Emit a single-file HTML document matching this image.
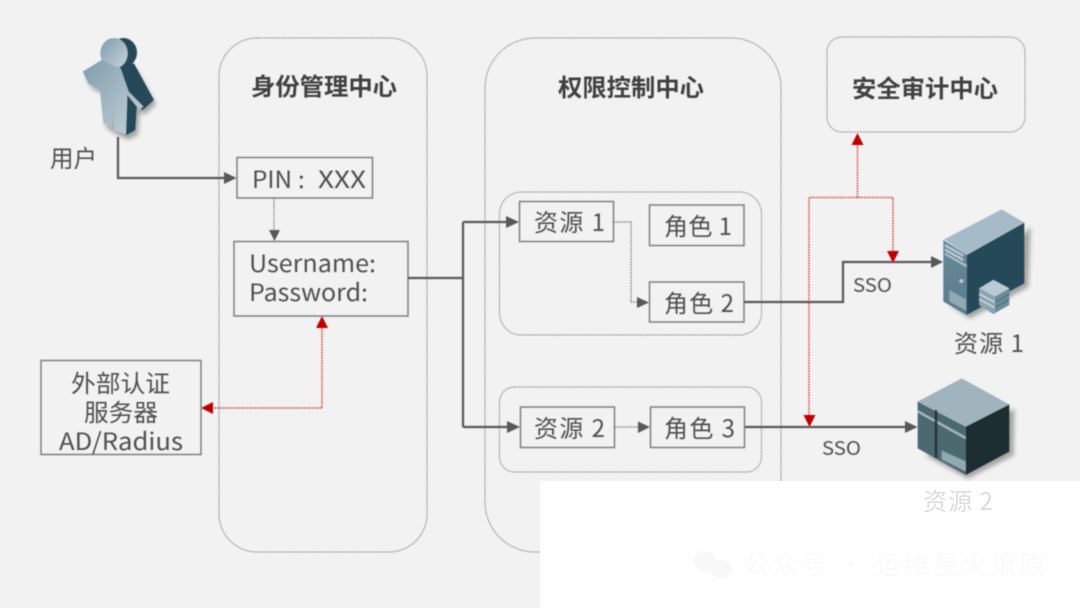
<!DOCTYPE html>
<html lang="zh">
<head>
<meta charset="utf-8">
<style>
html,body{margin:0;padding:0;background:#f2f2f2;width:1080px;height:608px;overflow:hidden}
svg{display:block}
text{font-family:"Noto Sans CJK SC","Liberation Sans",sans-serif;fill:#505050}
.t{font-size:24px;font-weight:700;fill:#404040}
.l{font-size:24px}
.box{fill:none;stroke:#7f7f7f;stroke-width:1.5}
.panel{fill:none;stroke:#9a9a9a;stroke-width:1.2;stroke-dasharray:1.5 .7}
.c{fill:none;stroke:#595959;stroke-width:2.2}
.d{fill:none;stroke:#6a6a6a;stroke-width:1.2;stroke-dasharray:1.5 1.2}
.r{fill:none;stroke:#d04040;stroke-width:1.5;stroke-dasharray:1.6 1.1}
.ah{fill:#595959}
.ar{fill:#c00000}
</style>
</head>
<body>
<svg width="1080" height="608" viewBox="0 0 1080 608" xmlns="http://www.w3.org/2000/svg">
<defs>
<linearGradient id="gp" x1="0" y1="0" x2="1" y2="1"><stop offset="0" stop-color="#7f9cab"/><stop offset="1" stop-color="#c5d3da"/></linearGradient>
<linearGradient id="gf" x1="0" y1="0" x2="0" y2="1"><stop offset="0" stop-color="#68899a"/><stop offset="1" stop-color="#5b7c8d"/></linearGradient>
<filter id="sh" x="-30%" y="-30%" width="160%" height="160%"><feGaussianBlur stdDeviation="6"/></filter>
<filter id="soft" x="-2%" y="-2%" width="104%" height="104%"><feGaussianBlur stdDeviation="0.45"/></filter>
</defs>

<rect width="1080" height="608" fill="#f2f2f2"/>

<g filter="url(#soft)">
<!-- panels -->
<rect class="panel" x="219" y="38" width="208" height="514" rx="38"/>
<rect class="panel" x="485" y="38" width="296" height="514" rx="50"/>
<rect class="panel" x="827" y="37" width="198" height="95" rx="15"/>
<rect class="panel" x="499.500" y="192" width="262" height="143" rx="22"/>
<rect class="panel" x="499.500" y="387" width="262" height="85" rx="15"/>

<!-- titles -->
<text class="t" x="251" y="95" textLength="146" lengthAdjust="spacingAndGlyphs">身份管理中心</text>
<text class="t" x="558" y="96" textLength="146" lengthAdjust="spacingAndGlyphs">权限控制中心</text>
<text class="t" x="852" y="97" textLength="146" lengthAdjust="spacingAndGlyphs">安全审计中心</text>

<!-- boxes -->
<rect class="box" x="237" y="157.500" width="135.500" height="40.500"/>
<rect class="box" x="234" y="241.500" width="174" height="74.500"/>
<rect class="box" x="41" y="360.500" width="160" height="94"/>
<rect class="box" x="519.500" y="201.500" width="94" height="40"/>
<rect class="box" x="649.500" y="205" width="94.500" height="40.500"/>
<rect class="box" x="649.500" y="282" width="94.500" height="40"/>
<rect class="box" x="520.500" y="407" width="94" height="40.500"/>
<rect class="box" x="650.500" y="407" width="94" height="40.500"/>

<!-- box labels -->
<text class="l" x="252" y="188" textLength="40" lengthAdjust="spacingAndGlyphs">PIN</text>
<text class="l" x="298" y="188">:</text>
<text class="l" x="318" y="188" textLength="48" lengthAdjust="spacingAndGlyphs">XXX</text>
<text class="l" x="249" y="272" textLength="127" lengthAdjust="spacingAndGlyphs">Username:</text>
<text class="l" x="249" y="301" textLength="119" lengthAdjust="spacingAndGlyphs">Password:</text>
<text class="l" x="71" y="392" textLength="99" lengthAdjust="spacingAndGlyphs">外部认证</text>
<text class="l" x="84" y="421" textLength="74" lengthAdjust="spacingAndGlyphs">服务器</text>
<text class="l" x="59" y="450" textLength="124" lengthAdjust="spacingAndGlyphs">AD/Radius</text>
<text class="l" x="534" y="231" textLength="71" lengthAdjust="spacing">资源 1</text>
<text class="l" x="664" y="235" textLength="68" lengthAdjust="spacing">角色 1</text>
<text class="l" x="664" y="312" textLength="70" lengthAdjust="spacing">角色 2</text>
<text class="l" x="534" y="437" textLength="71" lengthAdjust="spacing">资源 2</text>
<text class="l" x="664" y="437" textLength="71" lengthAdjust="spacing">角色 3</text>
<text class="l" x="50" y="167" textLength="47" lengthAdjust="spacingAndGlyphs">用户</text>
<text class="l" x="954" y="352" textLength="70" lengthAdjust="spacing">资源 1</text>
<text x="853" y="292" font-size="19" textLength="39" lengthAdjust="spacingAndGlyphs">SSO</text>
<text x="822" y="455" font-size="19" textLength="39" lengthAdjust="spacingAndGlyphs">SSO</text>

<!-- solid connectors -->
<path class="c" d="M118 137V178H226"/>
<path class="ah" d="M236.500 178L224 172V184Z"/>
<path class="c" d="M408 278H464M463 222V427M463 222H509M463 427H510"/>
<path class="ah" d="M519 222L506 216V228Z"/>
<path class="ah" d="M520 427L507 421V433Z"/>
<path class="c" d="M744 302H843V262H933"/>
<path class="ah" d="M943 262L931 256V268Z"/>
<path class="c" d="M745 427H908"/>
<path class="ah" d="M917.500 427L905 421V433Z"/>

<!-- dotted grey connectors -->
<path class="d" d="M274 198V232"/>
<path class="ah" d="M274.500 241L269 230H280Z"/>
<path class="d" d="M613.500 222H631V302H639"/>
<path class="ah" d="M649 302.500L637 297V308Z"/>
<path class="d" d="M614.500 427H640"/>
<path class="ah" d="M650 427L638 421.500V433Z"/>

<!-- red dotted connectors -->
<path class="r" d="M322 325V408H208"/>
<path class="ar" d="M322 316L316 328H328Z"/>
<path class="ar" d="M201 408L213 402V414Z"/>
<path class="r" d="M809 418V197.500H893V252"/>
<path class="r" d="M857.500 197.500V143"/>
<path class="ar" d="M857.500 133L851.500 145H863.500Z"/>
<path class="ar" d="M893 263L887 251H899Z"/>
<path class="ar" d="M809.500 427L803.500 415H815.500Z"/>

<!-- person -->
<g transform="translate(40 20) scale(.3333)">
<path d="M135 165L195 130L240 150L285 140L345 245L310 275L295 270L290 335L262 352L225 335L195 315L185 215L150 195Z" fill="#444" opacity=".45" filter="url(#sh)" transform="translate(4 8)"/>
<ellipse cx="250" cy="98" rx="41" ry="44" fill="#26495a"/>
<path d="M235 140L282 130L342 240L308 270L290 262L286 330L258 346Z" fill="#26495a"/>
<ellipse cx="222" cy="100" rx="41" ry="46" fill="url(#gp)"/>
<path d="M128 155L185 120L215 135L242 145L266 215L310 260L298 269L262 225L258 342L222 330L218 265L215 322L190 310L180 210L145 190Z" fill="url(#gp)"/>
</g>

<!-- server -->
<g transform="translate(780 120) scale(.3333)">
<path d="M560 590L735 495L742 315L500 550Z" fill="#555" opacity=".5" filter="url(#sh)" transform="translate(10 6)"/>
<path d="M492 358L665 268L733 308L560 405Z" fill="#a5bcc8"/>
<path d="M490 360L560 405V585L490 545Z" fill="url(#gf)"/>
<path d="M560 405L733 308V490L560 585Z" fill="#26495a"/>
<path d="M495 372L550 403V411L495 380Z" fill="#b9cbd4"/>
<path d="M495 385L550 416V424L495 393Z" fill="#b9cbd4"/>
<path d="M495 398L560 435V442L495 405Z" fill="#aebfc8"/>
<path d="M508 510L558 538V572L508 544Z" fill="#8fa9b5"/>
<circle cx="544" cy="483" r="6" fill="#b6c7cf"/>
<path d="M598 505L640 480L688 505V555L640 582L598 555Z" fill="#6d8c9b"/>
<path d="M598 505L640 480L688 505L645 530Z" fill="#b8cad2"/>
<path d="M598 505L645 530V582L598 555Z" fill="#8ba5b1"/>
<path d="M598 522L645 547M598 538L645 563" stroke="#e6ecef" stroke-width="3" fill="none"/>
<path d="M645 547L688 522M645 563L688 538" stroke="#48697a" stroke-width="3" fill="none"/>
</g>

<!-- cube -->
<g transform="translate(780 360) scale(.3333)">
<path d="M557 350L695 280L697 140L430 280Z" fill="#555" opacity=".5" filter="url(#sh)" transform="translate(6 6)"/>
<path d="M413 125L545 55L688 133L557 200Z" fill="#9fb4bc"/>
<path d="M413 125L557 200V345L413 265Z" fill="#4d6970"/>
<path d="M557 200L688 133V275L557 345Z" fill="#1f2d32"/>
<path d="M413 150L557 230V238L413 158Z" fill="#a2b7bd"/>
<path d="M464 150H472V295L464 292Z" fill="#22363d"/>
<path d="M485 272L557 304V334L485 298Z" fill="#91a9b0"/>
</g>
</g>

<!-- white overlay -->
<rect x="540" y="481" width="540" height="127" fill="#ffffff"/>
<text class="l" x="923" y="510" textLength="70" lengthAdjust="spacing" style="fill:#dcdcdc">资源 2</text>

<!-- watermark -->
<g fill="#f8f8f8">
<ellipse cx="705" cy="561" rx="11" ry="10"/>
<ellipse cx="721" cy="569" rx="11" ry="9.500"/>
</g>
<text x="743" y="574" font-size="26" textLength="302" lengthAdjust="spacing" style="fill:#fafafa">公众号 · 运维星火燎原</text>
</svg>
</body>
</html>
